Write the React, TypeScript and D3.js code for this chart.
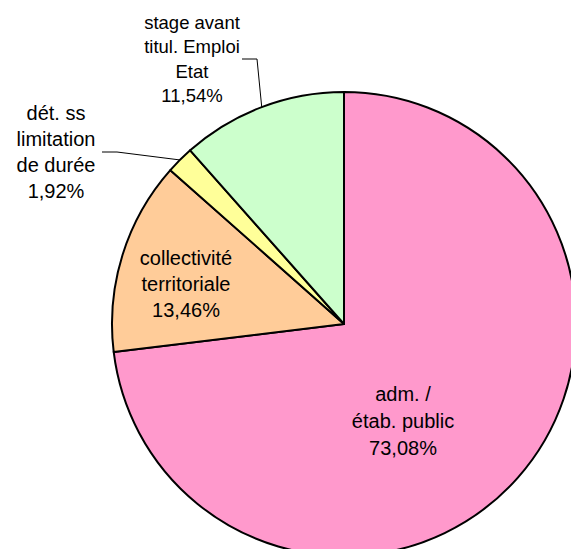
import React from "react";
import * as d3 from "d3";

const categories = ["adm. / étab. public", "collectivité territoriale", "dét. ss limitation de durée", "stage avant titul. Emploi Etat"];
const counts = [38, 7, 1, 6];
const percentLabels = ["73,08%", "13,46%", "1,92%", "11,54%"];
const labelLines = [
  ["adm. /", "étab. public"],
  ["collectivité", "territoriale"],
  ["dét. ss", "limitation", "de durée"],
  ["stage avant", "titul. Emploi", "Etat"],
];
const colors = ["#FF99CC", "#FFCC99", "#FFFF99", "#CCFFCC"];

const W = 571, H = 549;
const cx = 344, cy = 324, R = 232;

// label layout: center x, center y of text block, font size, line height, leader (side x)
const labelLayout = [
  { x: 403, y: 421, fs: 20, lh: 27, leader: null as null | number },
  { x: 186, y: 284, fs: 20, lh: 26, leader: null as null | number },
  { x: 56, y: 152, fs: 20, lh: 26, leader: 102 },
  { x: 192, y: 59, fs: 18.5, lh: 24.5, leader: 242 },
];

export default function App() {
  const pie = d3.pie<number>().sort(null).value((d) => d)(counts);
  const arc = d3.arc<d3.PieArcDatum<number>>().innerRadius(0).outerRadius(R);

  return (
    <svg width={W} height={H} style={{ position: "absolute", left: 0, top: 0, background: "#fff" }}
      fontFamily="'Liberation Sans', Arial, sans-serif">
      <g transform={`translate(${cx},${cy})`}>
        {pie.map((p, i) => (
          <path key={i} d={arc(p) || ""} fill={colors[i]} stroke="#000" strokeWidth={2} strokeLinejoin="round" />
        ))}
      </g>
      {pie.map((p, i) => {
        const L = labelLayout[i];
        const lines = [...labelLines[i], percentLabels[i]];
        const n = lines.length;
        const firstBaseline = L.y - ((n - 1) * L.lh) / 2 + L.fs * 0.35;
        let leader = null;
        if (L.leader !== null) {
          const mid = (p.startAngle + p.endAngle) / 2;
          const ex = cx + R * Math.sin(mid);
          const ey = cy - R * Math.cos(mid);
          const kx = L.leader + 15;
          leader = (
            <polyline points={`${L.leader},${L.y} ${kx},${L.y} ${ex},${ey}`} fill="none" stroke="#000" strokeWidth={1} />
          );
        }
        return (
          <g key={i}>
            {leader}
            <text textAnchor="middle" fontSize={L.fs} fill="#000">
              {lines.map((t, j) => (
                <tspan key={j} x={L.x} y={firstBaseline + j * L.lh}>{t}</tspan>
              ))}
            </text>
          </g>
        );
      })}
    </svg>
  );
}
